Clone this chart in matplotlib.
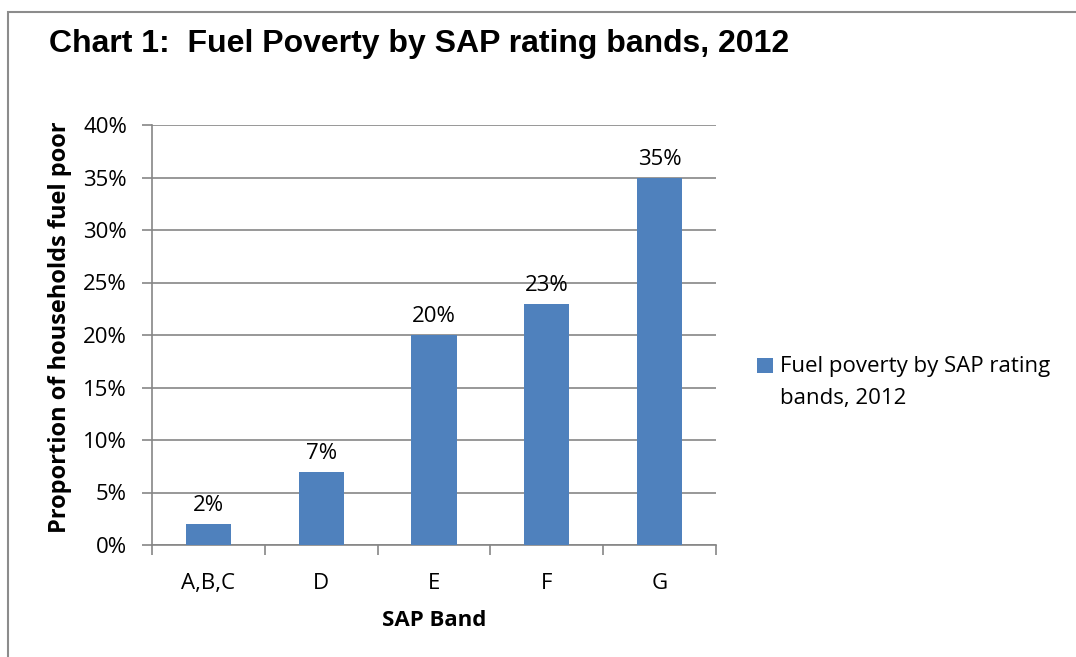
import matplotlib.pyplot as plt
from matplotlib.patches import Rectangle
from matplotlib.ticker import FixedLocator, FuncFormatter
import numpy as np

# Fuel poverty rate by SAP band, 2012
bands = ['A,B,C', 'D', 'E', 'F', 'G']
fuel_poor_pct = [2, 7, 20, 23, 35]
y_ticks = [0, 5, 10, 15, 20, 25, 30, 35, 40]
series_name = 'Fuel poverty by SAP rating\nbands, 2012'

BAR_COLOR = '#4F81BD'
GRID_COLOR = '#868686'
BODY_FONT = ['Open Sans', 'DejaVu Sans']
TITLE_FONT = ['Liberation Sans', 'DejaVu Sans']
FS = 16

W, H = 1076, 657
fig = plt.figure(figsize=(W / 100, H / 100), dpi=100, facecolor='white')


def px(x, y):
    # pixel position (from top-left) to figure fraction
    return x / W, 1 - y / H


# chart frame (top and left edges visible)
fig.patches.append(Rectangle((8 / W, -0.1), 1.2, (H - 12) / H + 0.1,
                             transform=fig.transFigure, fill=False,
                             edgecolor='#8c8c8c', linewidth=1.5))

ax = fig.add_axes([152 / W, (H - 545) / H, 564 / W, 420 / H])
x = np.arange(len(bands))
bars = ax.bar(x, fuel_poor_pct, width=0.4, color=BAR_COLOR, zorder=3)

for xi, v in zip(x, fuel_poor_pct):
    ax.text(xi, v + 0.75, f'{v}%', ha='center', va='bottom', fontsize=FS,
            family=BODY_FONT)

ax.set_xlim(-0.5, len(bands) - 0.5)
ax.set_ylim(0, 40)
ax.set_yticks(y_ticks)
ax.yaxis.set_major_formatter(FuncFormatter(lambda v, p: f'{v:.0f}%'))
ax.yaxis.grid(True, color=GRID_COLOR, linewidth=1.2, zorder=0)

# category labels centred, tick marks on the boundaries
ax.set_xticks(x)
ax.set_xticklabels(bands)
ax.xaxis.set_minor_locator(FixedLocator(np.arange(-0.5, len(bands), 1.0)))
ax.tick_params(axis='x', which='major', length=0, pad=20)
ax.tick_params(axis='x', which='minor', length=7, width=1.2, color=GRID_COLOR,
               direction='out')
ax.tick_params(axis='y', length=7, width=1.2, color=GRID_COLOR, pad=11)

for lbl in ax.get_xticklabels() + ax.get_yticklabels():
    lbl.set_family(BODY_FONT)
    lbl.set_fontsize(FS)

for side in ['top', 'right']:
    ax.spines[side].set_visible(False)
for side in ['left', 'bottom']:
    ax.spines[side].set_color(GRID_COLOR)
    ax.spines[side].set_linewidth(1.2)

fig.text(*px(434, 620), 'SAP Band', fontsize=FS, fontweight='bold',
         family=BODY_FONT, ha='center', va='center')
fig.text(*px(60, 327), 'Proportion of households fuel poor', fontsize=17,
         fontweight='bold', family=BODY_FONT, ha='center', va='center',
         rotation=90)

fig.text(*px(49, 52), 'Chart 1:  Fuel Poverty by SAP rating bands, 2012',
         fontsize=23, fontweight='bold', family=TITLE_FONT, ha='left',
         va='baseline')

# legend: colour key beside the first line of the wrapped series name
kx, ky = px(757, 373)
fig.patches.append(Rectangle((kx, ky), 16 / W, 15 / H, transform=fig.transFigure,
                             facecolor=bars.patches[0].get_facecolor(),
                             edgecolor='none'))
fig.text(*px(780, 356), series_name, fontsize=FS, family=BODY_FONT,
         ha='left', va='top', linespacing=1.7)

fig.savefig('out.png', dpi=100, facecolor='white')
